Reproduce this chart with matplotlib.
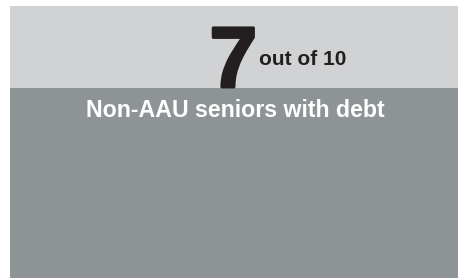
import matplotlib
matplotlib.use('Agg')
import matplotlib.pyplot as plt
import matplotlib.patheffects as pe

# share of non-AAU seniors with debt (out of 10)
value = 7
total = 10
big_label = '7'
small_label = 'out of 10'
caption = 'Non-AAU seniors with debt'

plt.rcParams['font.family'] = ['Liberation Sans', 'DejaVu Sans']

fig = plt.figure(figsize=(4.62, 2.78), dpi=100)
ax = fig.add_axes([10 / 462, 0, 448 / 462, 272 / 278])

# one stacked bar: filled part and remainder
ax.bar(0, value, width=1, color='#8e9396', align='center')
ax.bar(0, total - value, bottom=value, width=1, color='#d1d2d4', align='center')
ax.set_xlim(-0.5, 0.5)
ax.set_ylim(0, total)
ax.axis('off')

# heavier look for the big number
ax.text(0.552, value + 0.02, big_label, transform=ax.get_yaxis_transform(),
        ha='right', va='baseline', fontsize=62, fontweight='bold', color='#231f20',
        path_effects=[pe.withStroke(linewidth=2, foreground='#231f20')])
ax.text(0.556, 7.83, small_label, transform=ax.get_yaxis_transform(),
        ha='left', va='baseline', fontsize=15, fontweight='bold', color='#231f20')
ax.text(0.502, 5.92, caption, transform=ax.get_yaxis_transform(),
        ha='center', va='baseline', fontsize=16.7, fontweight='bold', color='white')

fig.savefig('out.png', dpi=100)
